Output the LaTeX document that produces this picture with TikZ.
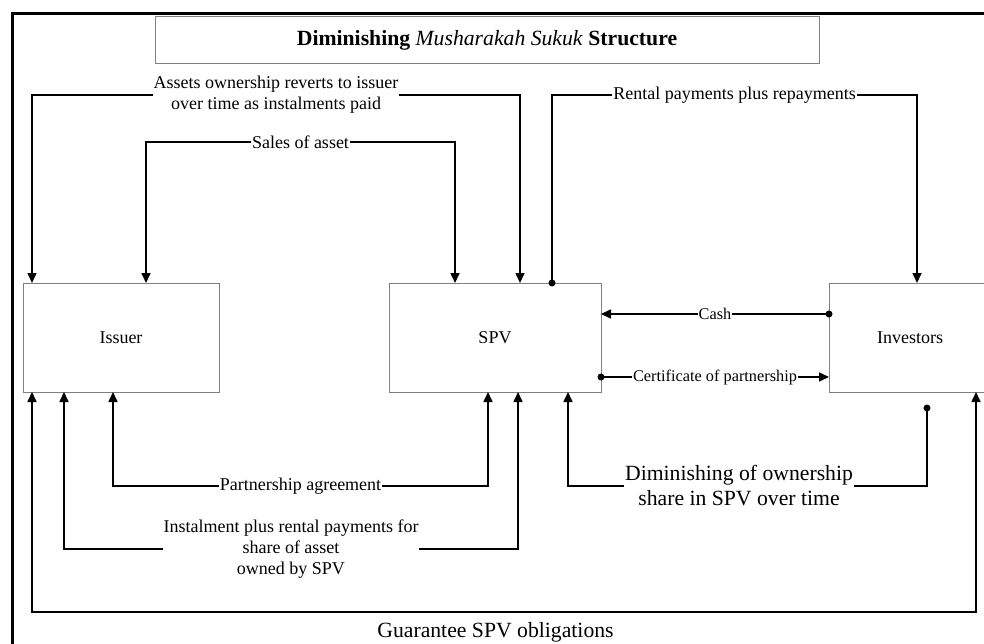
\documentclass[tikz,border=0pt]{standalone}
\usepackage{fontspec}
\setmainfont{Liberation Serif}
\usetikzlibrary{arrows.meta}
\begin{document}
\begin{tikzpicture}[x=1pt,y=-1pt,
  box/.style={draw=black!50,line width=1pt,inner sep=0pt,outer sep=0pt,font=\fontsize{18}{21}\selectfont},
  conn/.style={line width=1.6pt,draw=black},
  tip/.style={-{Triangle[length=10pt,width=9pt]}},
  bitip/.style={{Triangle[length=10pt,width=9pt]}-{Triangle[length=10pt,width=9pt]}},
  lbl/.style={fill=white,inner sep=1pt,align=center,font=\fontsize{18}{21}\selectfont},
  slbl/.style={fill=white,inner sep=1pt,align=center,font=\fontsize{16.3}{19}\selectfont},
  blbl/.style={fill=white,inner sep=1pt,align=center,font=\fontsize{21.7}{25}\selectfont},
  dotr/.style={fill=black}]
\useasboundingbox (0,0) rectangle (984,644);
\clip (0,0) rectangle (984,644);
\fill[white] (0,0) rectangle (984,644);
% outer frame
\draw[line width=3pt] (12.5,700) -- (12.5,13.5) -- (1000,13.5);
% title
\node[box,minimum width=664pt,minimum height=47pt,font=\fontsize{21.7}{26}\selectfont] (title) at (487,40.5)
  {\textbf{Diminishing} \textit{Musharakah Sukuk} \textbf{Structure}};
% main boxes
\node[box,minimum width=196pt,minimum height=109pt] (issuer) at (121,337.5) {Issuer};
\node[box,minimum width=212pt,minimum height=109pt] (spv) at (495,337.5) {SPV};
\node[box,minimum width=162pt,minimum height=109pt] (inv) at (910,337.5) {Investors};
% anchor coordinates
\coordinate (iA) at ([xshift=9pt]issuer.north west);
\coordinate (iS) at ([xshift=123pt]issuer.north west);
\coordinate (sA) at ([xshift=131pt]spv.north west);
\coordinate (sS) at ([xshift=66pt]spv.north west);
\coordinate (sR) at ([xshift=163pt]spv.north west);
\coordinate (nR) at ([xshift=88pt]inv.north west);
\coordinate (iP) at ([xshift=90pt]issuer.south west);
\coordinate (sP) at ([xshift=99pt]spv.south west);
\coordinate (iI) at ([xshift=41pt]issuer.south west);
\coordinate (sI) at ([xshift=129pt]spv.south west);
\coordinate (sD) at ([xshift=179pt]spv.south west);
\coordinate (nD) at ([shift={(98pt,-16pt)}]inv.south west);
\coordinate (iG) at ([xshift=9pt]issuer.south west);
\coordinate (nG) at ([xshift=147pt]inv.south west);
\coordinate (sC) at ([yshift=-31pt]spv.north east);
\coordinate (nC) at ([yshift=-31pt]inv.north west);
\coordinate (sCe) at ([yshift=-94pt]spv.north east);
\coordinate (nCe) at ([yshift=-94pt]inv.north west);
% top connectors
\draw[conn,bitip] (iA) -- (iA |- 0,95)
  -- node[lbl]{Assets ownership reverts to issuer\\over time as instalments paid} (sA |- 0,95) -- (sA);
\draw[conn,bitip] (iS) -- (iS |- 0,142)
  -- node[lbl]{Sales of asset} (sS |- 0,142) -- (sS);
\draw[conn,tip] (sR) -- (sR |- 0,95)
  -- node[lbl]{Rental payments plus repayments} (nR |- 0,95) -- (nR);
\fill[dotr] (sR) circle (3.5pt);
% middle connectors
\draw[conn,tip] (nC) -- node[slbl]{Cash} (sC);
\fill[dotr] (nC) circle (3.5pt);
\draw[conn,tip] (sCe) -- node[slbl]{Certificate of partnership} (nCe);
\fill[dotr] (sCe) circle (3.5pt);
% bottom connectors
\draw[conn,bitip] (iP) -- (iP |- 0,486)
  -- node[lbl]{Partnership agreement} (sP |- 0,486) -- (sP);
\draw[conn,bitip] (iI) -- (iI |- 0,549)
  -- node[lbl]{Instalment plus rental payments for\\share of asset\\owned by SPV} (sI |- 0,549) -- (sI);
\draw[conn,tip] (nD) -- (nD |- 0,486) -- (sD |- 0,486) -- (sD);
\fill[dotr] (nD) circle (3.5pt);
\node[blbl] (dimlbl) at (739,485.5) {Diminishing of ownership\\share in SPV over time};
\draw[conn,bitip] (iG) -- (iG |- 0,612) -- (nG |- 0,612) -- (nG);
\node[blbl,fill=none] (guar) at (495.5,632) {Guarantee SPV obligations};
\end{tikzpicture}
\end{document}
